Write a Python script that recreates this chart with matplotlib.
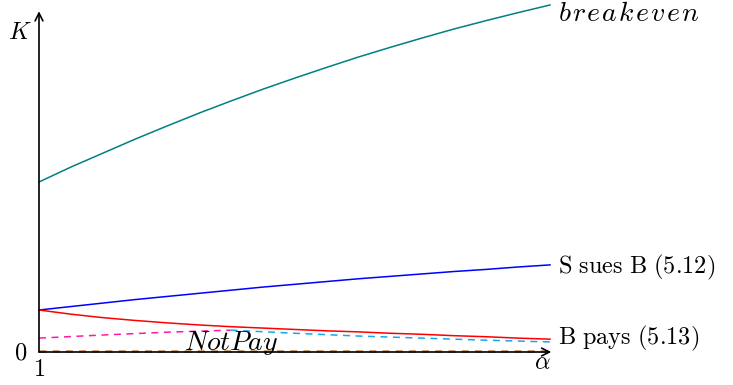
import matplotlib
matplotlib.use("Agg")
import matplotlib.pyplot as plt

plt.rcParams["mathtext.fontset"] = "cm"
plt.rcParams["lines.scale_dashes"] = False

# alpha grid and the K curves
alpha = [1.0, 1.25, 1.5, 1.75, 2.0, 2.25, 2.5, 2.75, 3.0,
         3.25, 3.5, 3.75, 4.0, 4.25, 4.5, 4.75, 5.0]
k_breakeven = [4.90, 5.33, 5.73, 6.13, 6.51, 6.88, 7.23, 7.57, 7.89,
               8.20, 8.50, 8.78, 9.05, 9.31, 9.55, 9.78, 10.0]
k_sues = [1.21, 1.31, 1.41, 1.51, 1.60, 1.69, 1.78, 1.87, 1.95,
          2.03, 2.11, 2.18, 2.25, 2.32, 2.38, 2.45, 2.51]
k_pays = [1.21, 1.09, 0.99, 0.91, 0.84, 0.78, 0.73, 0.69, 0.65,
          0.61, 0.58, 0.54, 0.51, 0.47, 0.44, 0.40, 0.37]

alpha_pink = [1.0, 1.25, 1.5, 1.75, 2.0, 2.25, 2.5]
k_pink = [0.40, 0.445, 0.49, 0.53, 0.57, 0.60, 0.63]
alpha_cyan = [2.5, 2.75, 3.0, 3.25, 3.5, 3.75, 4.0, 4.25, 4.5, 4.75, 5.0]
k_cyan = [0.63, 0.585, 0.54, 0.50, 0.46, 0.43, 0.40, 0.37, 0.34, 0.315, 0.29]
alpha_brown = [1.0, 5.0]
k_brown = [0.03, 0.03]

fig = plt.figure(figsize=(7.33, 3.85), dpi=100)
ax = fig.add_axes([0, 0, 1, 1])
ax.set_xlim(0.6947, 6.4326)
ax.set_ylim(-0.951, 10.144)
ax.axis("off")

lw = 1.1
ax.plot(alpha, k_breakeven, color="#008080", lw=lw)
ax.plot(alpha, k_sues, color="#0000ff", lw=lw)
ax.plot(alpha, k_pays, color="#ff0000", lw=lw)
ax.plot(alpha_pink, k_pink, color="#ff1aa0", lw=lw, dashes=(5, 4))
ax.plot(alpha_cyan, k_cyan, color="#14a9ee", lw=lw, dashes=(5, 4))
ax.plot(alpha_brown, k_brown, color="#c4966a", lw=2.0, dashes=(5, 4.5))

# axes with arrow tips
arrow = dict(arrowstyle="->", lw=1.2, color="black", mutation_scale=14,
             shrinkA=0, shrinkB=0)
ax.annotate("", xy=(5.01, 0), xytext=(1, 0), arrowprops=arrow)
ax.annotate("", xy=(1, 9.82), xytext=(1, 0), arrowprops=arrow)

fs = 17.5
ax.text(0.85, 9.22, r"$K$", fontsize=fs, ha="center", va="center")
ax.text(0.86, 0.0, r"$0$", fontsize=fs, ha="center", va="center")
ax.text(1.0, -0.48, r"$1$", fontsize=fs, ha="center", va="center")
ax.text(4.94, -0.30, r"$\alpha$", fontsize=fs, ha="center", va="center")
ax.text(2.5, 0.06, r"$NotPay$", fontsize=20, ha="center", va="baseline")

gap = r"\hspace{0.09}"
ax.text(5.06, 9.77, "$" + gap.join("breakeven") + "$", fontsize=20,
        ha="left", va="center")
ax.text(5.06, 2.45, r"$\mathrm{S\ sues\ B\ (5.12)}$", fontsize=fs,
        ha="left", va="center")
ax.text(5.06, 0.40, r"$\mathrm{B\ pays\ (5.13)}$", fontsize=fs,
        ha="left", va="center")

fig.savefig("out.png", dpi=100)
